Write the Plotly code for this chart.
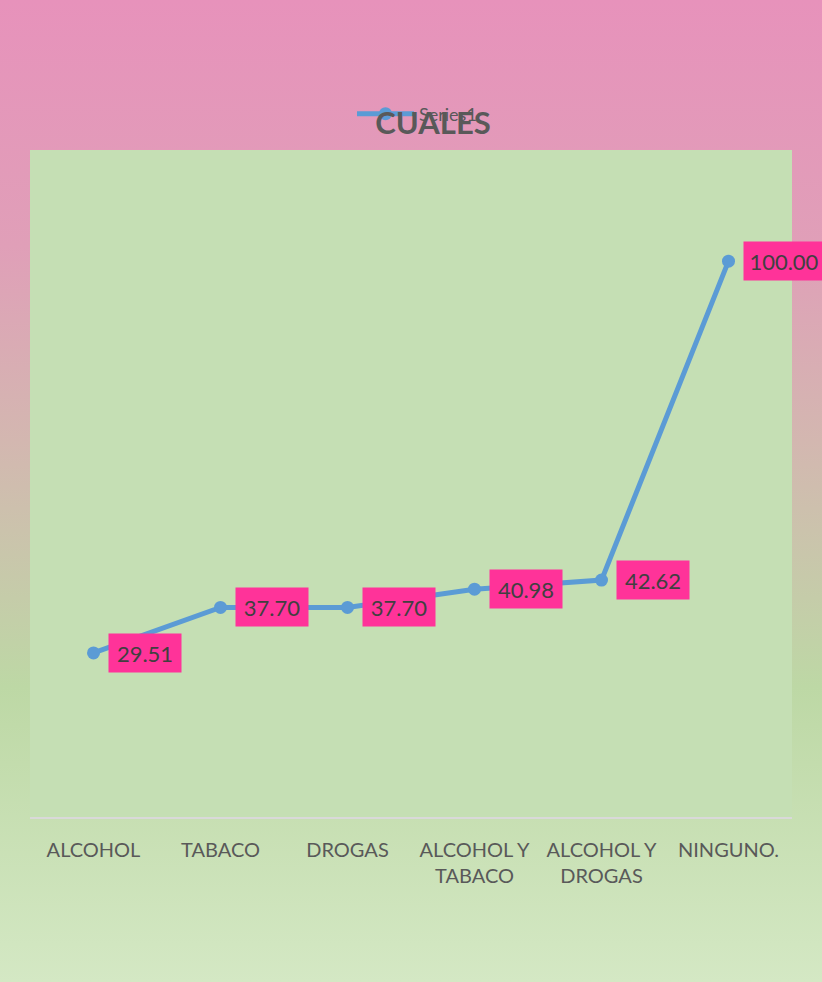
import base64
import plotly.graph_objects as go

categories = ["ALCOHOL", "TABACO", "DROGAS", "ALCOHOL Y<br>TABACO", "ALCOHOL Y<br>DROGAS", "NINGUNO."]
values = [29.51, 37.70, 37.70, 40.98, 42.62, 100.00]
labels = ["29.51", "37.70", "37.70", "40.98", "42.62", "100.00"]
series_name = "Series1"
title_text = "CUALES"

W, H = 822, 982

svg = f'''<svg xmlns="http://www.w3.org/2000/svg" width="{W}" height="{H}" viewBox="0 0 {W} {H}" preserveAspectRatio="none">
<defs><linearGradient id="g" x1="0" y1="0" x2="0" y2="1">
<stop offset="0" stop-color="#e792bb"/>
<stop offset="0.25" stop-color="#e09fb8"/>
<stop offset="0.45" stop-color="#d3b7b0"/>
<stop offset="0.70" stop-color="#bdd8a5"/>
<stop offset="1" stop-color="#d4e8c4"/>
</linearGradient></defs>
<rect x="0" y="0" width="{W}" height="{H}" fill="url(#g)"/>
</svg>'''
src = "data:image/svg+xml;base64," + base64.b64encode(svg.encode()).decode()

fig = go.Figure()
fig.add_trace(go.Scatter(
    x=categories, y=values, mode="lines+markers", name=series_name,
    line=dict(color="#5b9bd5", width=5),
    marker=dict(color="#5b9bd5", size=13),
    showlegend=True,
))

for c, v, t in zip(categories, values, labels):
    fig.add_annotation(
        x=c, y=v, xref="x", yref="y", text=t, showarrow=False,
        xanchor="left", yanchor="middle", xshift=14,
        bgcolor="#ff3399", width=72 if len(t) < 6 else 80, height=38,
        borderpad=0, font=dict(family="Lato", size=22, color="#404040"),
    )

fig.add_shape(type="rect", xref="x domain", yref="y domain", x0=0, x1=1, y0=0, y1=1,
              fillcolor="#c5dfb4", line=dict(width=0), layer="below")

fig.update_layout(
    width=W, height=H,
    margin=dict(l=0, r=0, t=0, b=0),
    paper_bgcolor="#d4e8c4",
    plot_bgcolor="rgba(0,0,0,0)",
    images=[dict(source=src, xref="paper", yref="paper", x=0, y=1, sizex=1, sizey=1,
                 xanchor="left", yanchor="top", sizing="stretch", layer="below")],
    title=dict(text=f"<b>{title_text}</b>", x=433 / W, xanchor="center",
               y=1 - 123 / H, yanchor="middle",
               font=dict(family="Lato", size=31, color="#595959")),
    legend=dict(orientation="h", x=352 / W, xanchor="left", y=1 - 114 / H, yanchor="middle",
                itemwidth=57,
                bgcolor="rgba(0,0,0,0)", font=dict(family="Lato", size=18, color="#595959")),
    xaxis=dict(domain=[30 / W, 792 / W], range=[-0.5, 5.5], showgrid=False, zeroline=False,
               showline=True, linecolor="#d9d9d9", linewidth=2, ticks="",
               ticklabelstandoff=14,
               tickfont=dict(family="Lato", size=20, color="#595959")),
    yaxis=dict(domain=[1 - 817 / H, 1 - 150 / H], range=[0, 120], visible=False),
)

fig.write_html("out.html", config={"displayModeBar": False},
               post_script="document.body.style.margin='0';document.body.style.overflow='hidden';")
